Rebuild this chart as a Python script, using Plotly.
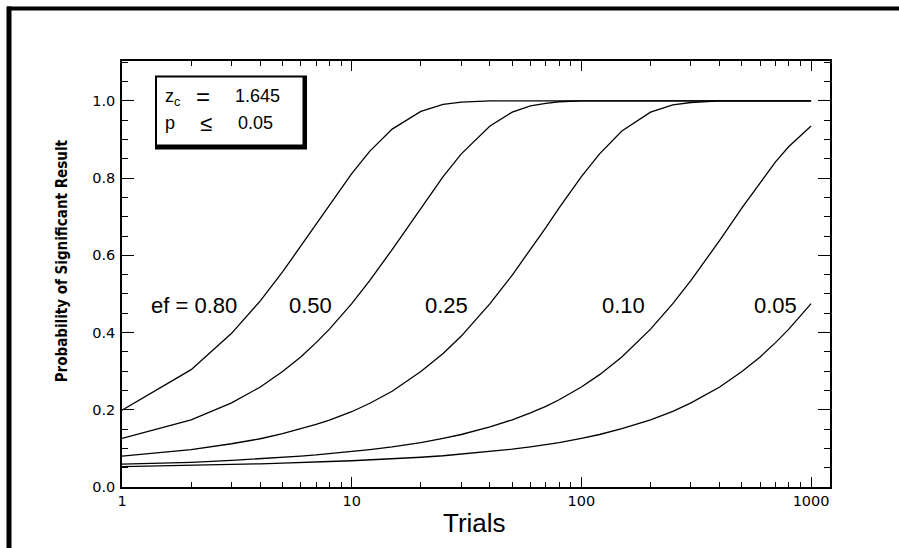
import math
import plotly.graph_objects as go

# ---- data ----
trials = [1, 2, 3, 4, 5, 6, 7, 8, 10, 12, 15, 20, 25, 30, 40, 50, 60, 70, 80,
          100, 120, 150, 200, 250, 300, 400, 500, 600, 700, 800, 1000]

p_ef080 = [0.199, 0.304, 0.398, 0.482, 0.557, 0.624, 0.681, 0.732, 0.812, 0.870,
           0.927, 0.973, 0.991, 0.997, 1.0, 1.0, 1.0, 1.0, 1.0,
           1.0, 1.0, 1.0, 1.0, 1.0, 1.0, 1.0, 1.0, 1.0, 1.0, 1.0, 1.0]
p_ef050 = [0.126, 0.174, 0.218, 0.259, 0.299, 0.337, 0.374, 0.409, 0.475, 0.535,
           0.615, 0.723, 0.804, 0.863, 0.935, 0.971, 0.987, 0.994, 0.998,
           1.0, 1.0, 1.0, 1.0, 1.0, 1.0, 1.0, 1.0, 1.0, 1.0, 1.0, 1.0]
p_ef025 = [0.080, 0.097, 0.112, 0.125, 0.138, 0.150, 0.162, 0.173, 0.195, 0.217,
           0.248, 0.299, 0.346, 0.391, 0.475, 0.549, 0.615, 0.672, 0.723,
           0.804, 0.863, 0.922, 0.971, 0.990, 0.996, 1.0, 1.0, 1.0, 1.0, 1.0, 1.0]
p_ef010 = [0.059, 0.064, 0.069, 0.073, 0.077, 0.080, 0.083, 0.086, 0.092, 0.097,
           0.104, 0.115, 0.126, 0.136, 0.156, 0.174, 0.192, 0.209, 0.226,
           0.259, 0.291, 0.337, 0.409, 0.475, 0.535, 0.639, 0.723, 0.789, 0.842, 0.882, 0.935]
p_ef005 = [0.053, 0.056, 0.058, 0.060, 0.062, 0.063, 0.065, 0.066, 0.068, 0.070,
           0.073, 0.077, 0.081, 0.085, 0.092, 0.098, 0.104, 0.110, 0.115,
           0.126, 0.136, 0.151, 0.174, 0.196, 0.218, 0.259, 0.299, 0.337, 0.374, 0.409, 0.475]

series = [("0.80", p_ef080), ("0.50", p_ef050), ("0.25", p_ef025),
          ("0.10", p_ef010), ("0.05", p_ef005)]
curve_labels = ["ef = 0.80", "0.50", "0.25", "0.10", "0.05"]
label_trials = [2.06, 6.6, 25.9, 152, 697]
label_prob = 0.47

x_major = [1, 10, 100, 1000]
x_major_text = ["1", "10", "100", "1000"]
x_minor = [m * d for d in (1, 10, 100) for m in range(2, 10)]
y_major = [0.0, 0.2, 0.4, 0.6, 0.8, 1.0]
y_major_text = ["0.0", "0.2", "0.4", "0.6", "0.8", "1.0"]

# ---- layout geometry (pixels) ----
W, H = 899, 548
PL, PR, PT, PB = 122, 830, 60.5, 487


def px2x(px):
    return (px - PL) / (PR - PL)


def py2y(py):
    return (PB - py) / (PB - PT)


fig = go.Figure()
for name, vals in series:
    fig.add_trace(go.Scatter(x=trials, y=vals, mode="lines", name="ef = " + name,
                             line=dict(color="black", width=1.3), hoverinfo="x+y"))

tick_font = dict(family="DejaVu Sans, Liberation Sans, sans-serif", size=14.5, color="black")

fig.update_layout(
    width=W, height=H,
    margin=dict(l=PL, r=W - PR, t=PT, b=H - PB),
    paper_bgcolor="white", plot_bgcolor="white",
    showlegend=False,
    xaxis=dict(type="log", range=[0, (PR - PL) / 229.7],
               showgrid=False, zeroline=False,
               showline=True, linecolor="black", linewidth=1.5, mirror="ticks",
               ticks="inside", ticklen=10, tickwidth=1.3, tickcolor="black",
               tickvals=x_major, ticktext=x_major_text, tickfont=tick_font,
               minor=dict(ticks="inside", ticklen=5, tickwidth=1.1, tickcolor="black",
                          tickvals=x_minor, showgrid=False)),
    yaxis=dict(range=[0, (PB - PT) / 386.5],
               showgrid=False, zeroline=False,
               showline=True, linecolor="black", linewidth=1.5, mirror="ticks",
               ticks="inside", ticklen=12, tickwidth=1.3, tickcolor="black",
               tickvals=y_major, ticktext=y_major_text, tickfont=tick_font,
               ticklabelstandoff=2,
               minor=dict(ticks="inside", ticklen=6, tickwidth=1.1, tickcolor="black",
                          tick0=0, dtick=0.05, showgrid=False)),
)

for txt, lt in zip(curve_labels, label_trials):
    fig.add_annotation(x=math.log10(lt), y=label_prob, xref="x", yref="y",
                       xanchor="center", yanchor="middle",
                       text=txt, showarrow=False,
                       font=dict(family="Liberation Sans, Arial, sans-serif", size=22, color="black"))

# frame of the page
fig.add_shape(type="line", xref="paper", yref="paper",
              x0=px2x(7), x1=px2x(W + 5), y0=py2y(8), y1=py2y(8),
              line=dict(color="black", width=4))
fig.add_shape(type="line", xref="paper", yref="paper",
              x0=px2x(9), x1=px2x(9), y0=py2y(6), y1=py2y(H + 5),
              line=dict(color="black", width=5))

# text box with shadow
fig.add_shape(type="rect", xref="paper", yref="paper",
              x0=px2x(155), x1=px2x(307), y0=py2y(149), y1=py2y(75),
              fillcolor="black", line=dict(width=0), layer="above")
fig.add_shape(type="rect", xref="paper", yref="paper",
              x0=px2x(157), x1=px2x(302.5), y0=py2y(144), y1=py2y(77),
              fillcolor="white", line=dict(width=0), layer="above")
box_parts = [("z<sub>c</sub>", 163, 97, 18), ("=", 194, 96, 24), ("1.645", 233, 96, 18),
             ("p", 163, 123, 18), ("\u2264", 198, 123, 22), ("0.05", 236, 123, 18)]
for txt, bx, by, fs in box_parts:
    fig.add_annotation(x=px2x(bx), y=py2y(by), xref="paper", yref="paper",
                       xanchor="left", yanchor="middle", showarrow=False,
                       text=txt,
                       font=dict(family="Liberation Sans, Arial, sans-serif", size=fs, color="black"))

# axis titles
fig.add_annotation(x=px2x(62), y=py2y(261), xref="paper", yref="paper",
                   xanchor="center", yanchor="middle",
                   textangle=-90, showarrow=False,
                   text="<b>Probability of Significant Result</b>",
                   font=dict(family="Liberation Sans Narrow, DejaVu Sans Condensed, Arial Narrow, sans-serif",
                             size=15, color="black"))
fig.add_annotation(x=px2x(474), y=py2y(523), xref="paper", yref="paper",
                   xanchor="center", yanchor="middle",
                   showarrow=False, text="Trials",
                   font=dict(family="Liberation Sans, Arial, sans-serif", size=26, color="black"))

fig.write_html("out.html", config={"displayModeBar": False},
               post_script="document.body.style.margin='0';")
